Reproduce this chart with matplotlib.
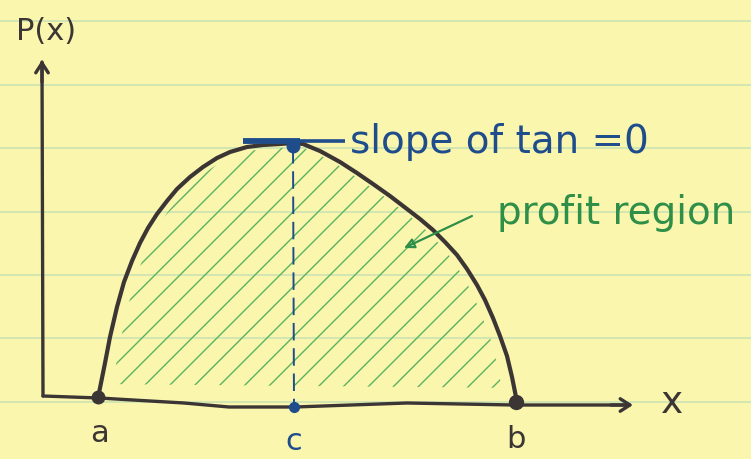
import matplotlib
matplotlib.use("Agg")
import matplotlib.pyplot as plt
from matplotlib.patches import Polygon
import numpy as np

# colours of the pad and the inks
paper = "#fbf6ae"
rule = "#cfe4b2"
ink = "#3b3534"
blue = "#1f4d8c"
green = "#2f8f48"
hatch_green = "#5ab35f"

# ruled lines of the legal pad (y, drawing units, top = 0)
rule_y = [21, 85, 148, 212, 275, 338, 402]

# profit curve P(x), traced point by point from a to b
curve_x = [98, 105, 110, 117, 124, 132, 140, 148, 157, 167, 177, 190, 203,
           217, 230, 247, 263, 280, 293, 303, 320, 340, 357, 373, 390,
           407, 420, 433, 445, 457, 467, 477, 485, 493, 500, 507, 512, 517]
curve_y = [398, 363, 337, 307, 282, 261, 243, 228, 214, 201, 189, 177, 167,
           158, 152, 147, 145, 144, 143, 144, 151, 162, 173, 184, 196,
           209, 219, 230, 242, 255, 269, 285, 300, 318, 336, 356, 377, 402]

# hand drawn x axis (slightly wavy)
xaxis_x = [43, 99, 184, 229, 295, 407, 514, 626]
xaxis_y = [396, 398, 403, 407, 407, 403, 405, 405]

# y axis
yaxis_x = [43, 42]
yaxis_y = [396, 62]

# special points
a_pt = (98, 397)
b_pt = (516, 402)
c_pt = (294, 407)
top_pt = (293, 146)

fig = plt.figure(figsize=(7.51, 4.59), dpi=100, facecolor=paper)
ax = fig.add_axes([0, 0, 1, 1])
ax.set_facecolor(paper)
ax.set_xlim(0, 751)
ax.set_ylim(459, 0)
ax.axis("off")

for y in rule_y:
    ax.axhline(y, color=rule, lw=1.3, zorder=0)

# hatching of the profit region, kept a little inside the curve
region = np.column_stack([curve_x + curve_x[:1], curve_y + curve_y[:1]])
cx, cy = region[:, 0].mean(), region[:, 1].mean()
inner = np.column_stack([cx + (region[:, 0] - cx) * 0.93,
                         cy + (region[:, 1] - cy) * 0.93 - 3])
clip = Polygon(inner, closed=True, fc="none", ec="none")
ax.add_patch(clip)
hx = np.array([60, 560])
for k in np.arange(330, 960, 25):
    ln, = ax.plot(hx, k - hx, color=hatch_green, lw=1.0, zorder=1,
                  solid_capstyle="round")
    ln.set_clip_path(clip)

# axes
ax.plot(yaxis_x, yaxis_y, color=ink, lw=2.4, solid_capstyle="round", zorder=3)
ax.plot([yaxis_x[0], xaxis_x[0]], [yaxis_y[0], xaxis_y[0]], color=ink, lw=2.4, zorder=3)
ax.plot(xaxis_x, xaxis_y, color=ink, lw=2.4, solid_capstyle="round", zorder=3)
ax.annotate("", xy=(yaxis_x[1], yaxis_y[1] - 2), xytext=(yaxis_x[1], yaxis_y[1] + 20),
            arrowprops=dict(arrowstyle="->,head_length=0.7,head_width=0.45",
                            color=ink, lw=2.4, shrinkA=0, shrinkB=0), zorder=3)
ax.annotate("", xy=(xaxis_x[-1] + 7, xaxis_y[-1]), xytext=(xaxis_x[-1] - 15, xaxis_y[-1]),
            arrowprops=dict(arrowstyle="->,head_length=0.7,head_width=0.45",
                            color=ink, lw=2.4, shrinkA=0, shrinkB=0), zorder=3)

# the curve
ax.plot(curve_x, curve_y, color=ink, lw=3.0, solid_joinstyle="round",
        solid_capstyle="round", zorder=4)

# tangent at the maximum and the drop to c
ax.plot([top_pt[0], c_pt[0]], [top_pt[1], c_pt[1]], color=blue, lw=1.4,
        dashes=(9, 4), zorder=4)
ax.plot([243, 300], [141, 141], color=blue, lw=4.2, solid_capstyle="butt", zorder=5)
ax.plot([300, 345], [141, 141], color=blue, lw=2.6, solid_capstyle="butt", zorder=5)

ax.plot(*top_pt, "o", color=blue, ms=9, zorder=6)
ax.plot(*c_pt, "o", color=blue, ms=7, zorder=6)
ax.plot(*a_pt, "o", color=ink, ms=9, zorder=6)
ax.plot(*b_pt, "o", color=ink, ms=10, zorder=6)

# labels
ax.text(46, 31, "P(x)", color=ink, fontsize=22, ha="center", va="center")
ax.text(99, 434, "a", color=ink, fontsize=22, ha="center", va="center")
ax.text(294, 441, "c", color=blue, fontsize=22, ha="center", va="center")
ax.text(516, 440, "b", color=ink, fontsize=22, ha="center", va="center")
ax.text(672, 403, "x", color=ink, fontsize=27, ha="center", va="center")
ax.text(350, 142, "slope of tan =0", color=blue, fontsize=28, ha="left", va="center")
ax.text(497, 213, "profit region", color=green, fontsize=28, ha="left", va="center")

ax.annotate("", xy=(404, 248), xytext=(472, 216),
            arrowprops=dict(arrowstyle="-|>,head_length=0.6,head_width=0.3",
                            color=green, fc="none", lw=1.6, shrinkA=0, shrinkB=0),
            zorder=6)

fig.savefig("out.png", dpi=100, facecolor=paper)
